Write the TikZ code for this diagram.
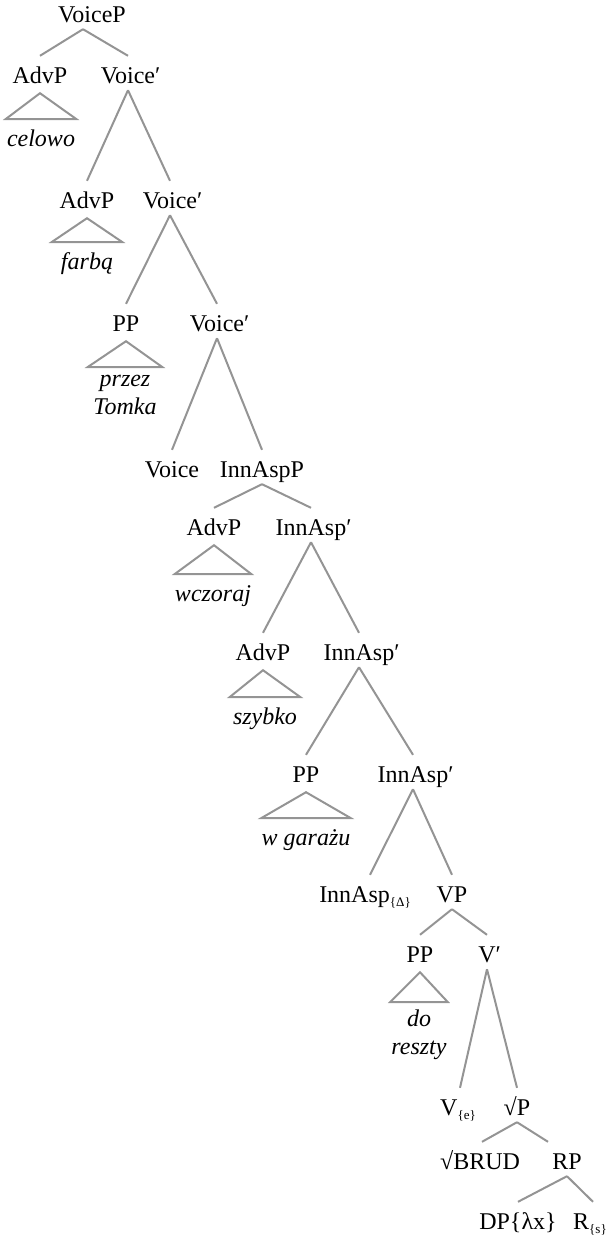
\documentclass[tikz,border=0pt]{standalone}
\usepackage{fontspec}
\setmainfont{Liberation Serif}
\usepackage{tikz}
\newcommand{\lowidx}[1]{\raisebox{-4pt}{\fontsize{13}{13}\selectfont\{#1\}}}

\begin{document}
\fontsize{24}{28}\selectfont
\begin{tikzpicture}[x=1pt, y=-1pt,
  cat/.style={anchor=base, inner sep=0pt, text height=27pt, text depth=7pt},
  leaf/.style={anchor=north, font=\itshape, align=center, inner xsep=0pt, inner ysep=8pt, minimum width=#1, execute at begin node=\strut},
  leaf/.default=70pt,
  branch/.style={draw=black!42, line width=2pt}
]
\useasboundingbox (0,0) rectangle (608,1235);
\node[cat] (voiceP) at (92,22) {VoiceP};
\node[cat] (advA) at (40,83) {AdvP};
\node[cat] (voiceA) at (128,83) {Voice\rlap{′}};
\node[leaf] (celowo) at (41,119) {celowo};
\node[cat] (advB) at (87,208) {AdvP};
\node[cat] (voiceB) at (170,208) {Voice\rlap{′}};
\node[leaf] (farba) at (87,242) {farbą};
\node[cat] (ppC) at (126,331) {PP};
\node[cat] (voiceC) at (217,331) {Voice\rlap{′}};
\node[leaf=74pt] (przez) at (125,367) {przez\\Tomka};
\node[cat] (voice) at (172,477) {Voice};
\node[cat] (innP) at (262,477) {InnAspP};
\node[cat] (advD) at (214,535) {AdvP};
\node[cat] (innD) at (311,535) {InnAsp\rlap{′}};
\node[leaf] (wczoraj) at (213,574) {wczoraj};
\node[cat] (advE) at (263,660) {AdvP};
\node[cat] (innE) at (359,660) {InnAsp\rlap{′}};
\node[leaf] (szybko) at (265,697) {szybko};
\node[cat] (ppF) at (306,782) {PP};
\node[cat] (innF) at (413,782) {InnAsp\rlap{′}};
\node[leaf=87pt] (garaz) at (306,818) {w garażu};
\node[cat] (innAsp) at (365,902) {InnAsp\lowidx{Δ}};
\node[cat] (vp) at (452,902) {VP};
\node[cat] (ppG) at (420,962) {PP};
\node[cat] (vbar) at (487,962) {V\rlap{′}};
\node[leaf=57pt] (reszty) at (419,1002) {do\\reszty};
\node[cat] (v) at (458,1115) {V\lowidx{e}};
\node[cat] (rootP) at (517,1115) {√P};
\node[cat] (brud) at (480,1169) {√BRUD};
\node[cat] (rp) at (567,1169) {RP};
\node[cat] (dp) at (518,1229) {DP\{λx\}};
\node[cat] (rs) at (590,1229) {R\lowidx{s}};

\draw[branch] ([xshift=-9pt]voiceP.south) -- (advA.north);
\draw[branch] ([xshift=-9pt]voiceP.south) -- (voiceA.north);
\draw[branch] (voiceA.south) -- (advB.north);
\draw[branch] (voiceA.south) -- (voiceB.north);
\draw[branch] (voiceB.south) -- (ppC.north);
\draw[branch] (voiceB.south) -- (voiceC.north);
\draw[branch] (voiceC.south) -- (voice.north);
\draw[branch] (voiceC.south) -- (innP.north);
\draw[branch] (innP.south) -- (advD.north);
\draw[branch] (innP.south) -- (innD.north);
\draw[branch] (innD.south) -- (advE.north);
\draw[branch] (innD.south) -- (innE.north);
\draw[branch] (innE.south) -- (ppF.north);
\draw[branch] (innE.south) -- (innF.north);
\draw[branch] (innF.south) -- ([xshift=5pt]innAsp.north);
\draw[branch] (innF.south) -- (vp.north);
\draw[branch] (vp.south) -- (ppG.north);
\draw[branch] (vp.south) -- (vbar.north);
\draw[branch] (vbar.south) -- ([xshift=2pt]v.north);
\draw[branch] (vbar.south) -- (rootP.north);
\draw[branch] (rootP.south) -- ([xshift=2pt]brud.north);
\draw[branch] (rootP.south) -- ([xshift=-19pt]rp.north);
\draw[branch] (rp.south) -- (dp.north);
\draw[branch] (rp.south) -- ([xshift=3pt]rs.north);

\draw[branch] ([yshift=-3pt]advA.south) -- (celowo.north west) -- (celowo.north east) -- cycle;
\draw[branch] ([yshift=-3pt]advB.south) -- (farba.north west) -- (farba.north east) -- cycle;
\draw[branch] ([yshift=-3pt]ppC.south) -- (przez.north west) -- (przez.north east) -- cycle;
\draw[branch] ([yshift=-3pt]advD.south) -- (wczoraj.north west) -- (wczoraj.north east) -- cycle;
\draw[branch] ([yshift=-3pt]advE.south) -- (szybko.north west) -- (szybko.north east) -- cycle;
\draw[branch] ([yshift=-3pt]ppF.south) -- (garaz.north west) -- (garaz.north east) -- cycle;
\draw[branch] ([yshift=-3pt]ppG.south) -- (reszty.north west) -- (reszty.north east) -- cycle;
\end{tikzpicture}
\end{document}
